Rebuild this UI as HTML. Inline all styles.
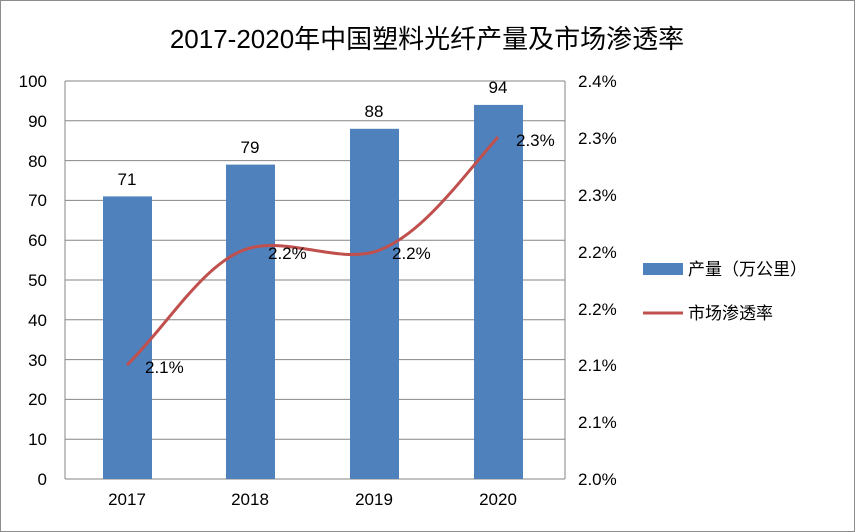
<!DOCTYPE html>
<html><head><meta charset="utf-8"><style>
body{margin:0;background:#fff}
svg{display:block}
text{font-family:"Liberation Sans","Noto Sans CJK SC",sans-serif;fill:#000}
</style></head><body>
<svg width="855" height="532" viewBox="0 0 855 532">
<rect x="0.5" y="0.5" width="854" height="531" fill="#fff" stroke="#8c8c8c"/>
<text x="427" y="48" font-size="26" text-anchor="middle">2017-2020年中国塑料光纤产量及市场渗透率</text>
<g stroke="#868686" stroke-width="1">
<line x1="65" y1="81" x2="565" y2="81"/>
<line x1="65" y1="120.8" x2="565" y2="120.8"/>
<line x1="65" y1="160.6" x2="565" y2="160.6"/>
<line x1="65" y1="200.4" x2="565" y2="200.4"/>
<line x1="65" y1="240.2" x2="565" y2="240.2"/>
<line x1="65" y1="280" x2="565" y2="280"/>
<line x1="65" y1="319.8" x2="565" y2="319.8"/>
<line x1="65" y1="359.6" x2="565" y2="359.6"/>
<line x1="65" y1="399.4" x2="565" y2="399.4"/>
<line x1="65" y1="439.2" x2="565" y2="439.2"/>
<line x1="65" y1="479" x2="565" y2="479"/>
<line x1="65" y1="81" x2="65" y2="479"/>
<line x1="565" y1="81" x2="565" y2="479"/>
</g>
<g fill="#4f81bd">
<rect x="103" y="196.4" width="49" height="282.6"/>
<rect x="226" y="164.6" width="49" height="314.4"/>
<rect x="350" y="128.8" width="49" height="350.2"/>
<rect x="474" y="104.9" width="49" height="374.1"/>
</g>
<g font-size="17" text-anchor="middle">
<text x="127" y="185">71</text>
<text x="250" y="153">79</text>
<text x="374" y="117">88</text>
<text x="498" y="93">94</text>
<text x="127" y="505">2017</text>
<text x="250" y="505">2018</text>
<text x="374" y="505">2019</text>
<text x="498" y="505">2020</text>
</g>
<g font-size="17" text-anchor="end">
<text x="47" y="87">100</text><text x="47" y="127">90</text><text x="47" y="167">80</text>
<text x="47" y="206">70</text><text x="47" y="246">60</text><text x="47" y="286">50</text>
<text x="47" y="326">40</text><text x="47" y="366">30</text><text x="47" y="405">20</text>
<text x="47" y="445">10</text><text x="47" y="485">0</text>
</g>
<g font-size="17">
<text x="578" y="87">2.4%</text><text x="578" y="144">2.3%</text><text x="578" y="201">2.3%</text>
<text x="578" y="258">2.2%</text><text x="578" y="315">2.2%</text><text x="578" y="371">2.1%</text>
<text x="578" y="428">2.1%</text><text x="578" y="485">2.0%</text>
</g>
<path d="M127,365 C168,325 205,260 250,248 C290,238 335,262 374,252 C420,238 460,180 498,137" fill="none" stroke="#c0504d" stroke-width="3"/>
<g font-size="17">
<text x="145" y="373">2.1%</text>
<text x="268" y="259">2.2%</text>
<text x="392" y="259">2.2%</text>
<text x="516" y="146">2.3%</text>
</g>
<rect x="643" y="263" width="40" height="12" fill="#4f81bd"/>
<text x="688" y="275" font-size="17">产量（万公里）</text>
<line x1="643" y1="313" x2="683" y2="313" stroke="#c0504d" stroke-width="3"/>
<text x="688" y="319" font-size="17">市场渗透率</text>
</svg>
</body></html>
